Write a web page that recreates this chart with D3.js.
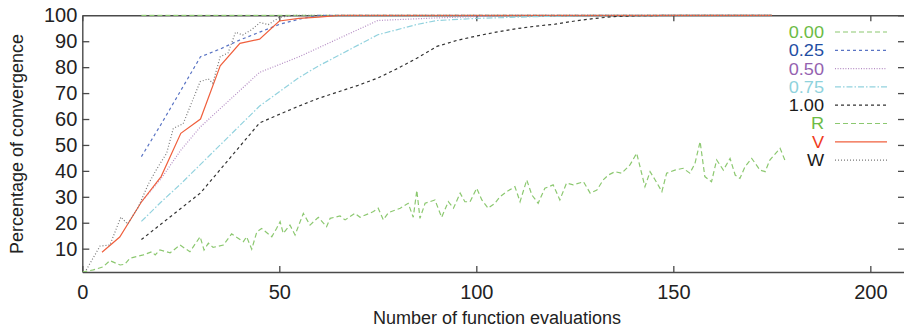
<!DOCTYPE html>
<html>
<head>
<meta charset="utf-8">
<script src="https://cdn.jsdelivr.net/npm/d3@7"></script>
<style>
  body { margin: 0; background: #fff; }
  text { font-family: "Liberation Sans", Arial, sans-serif; fill: #222; }
</style>
</head>
<body>
<div id="chart"><svg></svg></div>
<script>
// data
var xTicks = [0, 50, 100, 150, 200]
var yTicks = [10, 20, 30, 40, 50, 60, 70, 80, 90, 100]
var seriesNames = ["0.00", "0.25", "0.50", "0.75", "1.00", "R", "V", "W"]

var s000X = [15, 175]
var s000Y = [100, 100]

var s025X = [15, 20, 25, 30, 35, 40, 45, 50, 55, 60, 175]
var s025Y = [45.5, 58, 71, 84, 87, 90.5, 93.5, 96.5, 98.5, 100, 100]

var s050X = [15, 20, 25, 30, 35, 40, 45, 50, 55, 60, 65, 70, 75, 90, 110, 175]
var s050Y = [28, 37, 48, 57, 64, 71, 78, 81, 84, 87.5, 91, 94.5, 98, 99, 100, 100]

var s075X = [15, 20, 25, 30, 35, 40, 45, 50, 55, 60, 65, 70, 75, 80, 85, 90, 100, 115, 130, 175]
var s075Y = [20.5, 28, 35, 42.5, 50, 57.5, 65, 70.5, 76, 80.5, 84.5, 88.5, 92.5, 94.5, 96.5, 98, 98.8, 99.5, 100, 100]

var s100X = [15, 20, 25, 30, 35, 40, 45, 50, 55, 60, 65, 70, 75, 80, 85, 90, 95, 100, 105, 110, 115, 120, 125, 130, 135, 140, 150, 175]
var s100Y = [13.5, 19.5, 25.5, 31.5, 40.5, 49.5, 58.5, 61.8, 65, 68, 70.5, 73, 75.8, 79.5, 83.5, 88, 90.3, 92, 93.5, 94.8, 95.8, 96.6, 97.8, 98.8, 99.5, 99.8, 100, 100]

var rX = [0, 2.8, 5.3, 7, 9.6, 10.8, 12.1, 15.5, 17.6, 18.5,
  19.7, 22.3, 24.8, 27.3, 29.9, 30.9, 32, 33.2, 35.8, 37.9,
  40.9, 41.7, 43, 44.3, 45.5, 48.1, 49.3, 50.2, 51, 52.7,
  54, 56.1, 57.8, 59.9, 62, 62.9, 65.4, 66.7, 69.2, 70.5,
  73.9, 75.1, 76.4, 77.7, 80.7, 82.7, 84, 84.9, 85.7, 87,
  89.5, 91.2, 92.9, 94.2, 95.9, 97.1, 98.4, 100.1, 101.4, 103,
  104.7, 106, 107.7, 109.8, 111.1, 112.8, 114.1, 115.7, 117.4, 119.5,
  121.2, 122.9, 124.6, 127.2, 128.9, 130.6, 132.2, 133.5, 135.2, 136.9,
  139, 140.7, 142.8, 144.1, 145.4, 147.1, 148.3, 150.4, 152.5, 154.2,
  155.5, 156.8, 158, 159.7, 161, 162.7, 164.4, 165.7, 166.9, 168.2,
  169.9, 172, 173.3, 174.5, 177.1, 178.3]
var rY = [1, 1.8, 3, 5.4, 3.7, 4, 6.3, 7.6, 8.8, 7.6,
  9.5, 8.4, 11.4, 8.8, 14.6, 9.5, 12.1, 10.5, 11.4, 15.7,
  12.7, 14.6, 9.8, 16.5, 17.8, 14.6, 17.8, 20.4, 15.9, 19.1,
  15.3, 23.6, 19.1, 22.1, 18.5, 21.7, 22.6, 21.1, 23.6, 22.1,
  24.3, 25.6, 21.1, 23.9, 25.6, 27.5, 22.1, 32.5, 21.7, 27.5,
  28.8, 22.1, 28.1, 25.6, 31.4, 28.1, 28.1, 33.3, 28.8, 25.6,
  27.5, 30, 32, 33.9, 28.1, 36.5, 30.7, 27.5, 33.3, 34.6,
  28.8, 35.3, 34.6, 35.8, 31.4, 32.6, 36.5, 38.4, 39.7, 39.1,
  42.3, 46.8, 33.9, 39.7, 36.5, 32, 39.1, 40.3, 41, 39.1,
  42.9, 51.3, 37.8, 35.8, 44.2, 40.3, 44.8, 38.4, 37.1, 41.6,
  44.8, 40.3, 39.7, 44.2, 48.7, 44.2]

var vX = [5, 9.5, 15, 20, 25, 30, 35, 40, 45, 50, 55, 60, 65, 175]
var vY = [8.6, 14.5, 28, 37.8, 54.5, 60, 80.5, 89.2, 90.8, 97.8, 98.8, 99.3, 100, 100]

var wX = [1, 4.5, 7, 9.8, 11.5, 14.2, 16.8, 19, 21.4, 23.1, 25.6, 29.9, 32, 33.1, 35, 37, 38.9, 40.7, 43, 45.1, 47.2, 50, 53.6, 175]
var wY = [1.8, 11, 11.4, 22.2, 19.5, 26, 35, 41, 46.8, 56.4, 58.2, 74.4, 75.5, 73.8, 84, 85.5, 93.5, 92.4, 94.5, 97.2, 96.4, 99.2, 100, 100]

// Initialize
var width = 904
var height = 331

var svg = d3.select("#chart svg")
  .attr("width", width)
  .attr("height", height)

var x = d3.scaleLinear().domain([0, 208.8]).range([82.3, 905])
var y = d3.scaleLinear().domain([1, 100]).range([272, 15.3])

// styles per series
var lineColor = ["#8cc870", "#5a74c4", "#b48cc4", "#92d2de", "#333333", "#8cc870", "#f0603e", "#7a7a7a"]
var textColor = ["#6cbb45", "#1f4ea3", "#9462b0", "#8fd2dc", "#1a1a1a", "#6cbb45", "#f03c1e", "#1a1a1a"]
var dashes = ["5,3", "3,3", "1,1.6", "6,2,1.5,2", "3,3", "5,3", null, "1,2"]

var allX = [s000X, s025X, s050X, s075X, s100X, rX, vX, wX]
var allY = [s000Y, s025Y, s050Y, s075Y, s100Y, rY, vY, wY]

var series = seriesNames.map(function(name, i) {
  return {
    name: name,
    points: allX[i].map(function(v, j) { return [v, allY[i][j]] }),
    color: lineColor[i],
    textColor: textColor[i],
    dash: dashes[i]
  }
})

svg.append("clipPath").attr("id", "clip")
  .append("rect")
  .attr("x", x(0)).attr("y", y(100) - 1)
  .attr("width", x(208.8) - x(0)).attr("height", y(1) - y(100) + 1)

// Axes with inward ticks (gnuplot style frame)
var axisColor = "#4a4a4a"

var xAxis = svg.append("g")
  .attr("transform", "translate(0," + y(1) + ")")
  .call(d3.axisBottom(x).tickValues(xTicks).tickSizeInner(-6).tickSizeOuter(0).tickPadding(13))
var xAxisTop = svg.append("g")
  .attr("transform", "translate(0," + y(100) + ")")
  .call(d3.axisTop(x).tickValues(xTicks).tickSizeInner(-6).tickSizeOuter(0).tickFormat(""))
var yAxis = svg.append("g")
  .attr("transform", "translate(" + x(0) + ",0)")
  .call(d3.axisLeft(y).tickValues(yTicks).tickSizeInner(-7).tickSizeOuter(0).tickPadding(5))
var yAxisRight = svg.append("g")
  .attr("transform", "translate(" + x(208.8) + ",0)")
  .call(d3.axisRight(y).tickValues(yTicks).tickSizeInner(-7).tickSizeOuter(0).tickFormat(""))

svg.selectAll(".domain").attr("stroke", axisColor).attr("stroke-width", 1.4)
svg.selectAll(".tick line").attr("stroke", axisColor).attr("stroke-width", 1.3)
svg.selectAll(".tick text")
  .attr("fill", "#222")
  .style("font-family", "'Liberation Sans', Arial, sans-serif")
  .style("font-size", "20px")

// hide the 100 tick line on the left so it does not double the frame
yAxis.selectAll(".tick").filter(function(d) { return d === 100 }).select("line").remove()

// Lines
var line = d3.line().x(function(d) { return x(d[0]) }).y(function(d) { return y(d[1]) })

svg.append("g").attr("clip-path", "url(#clip)")
  .selectAll("path")
  .data(series)
  .join("path")
  .attr("d", function(d) { return line(d.points) })
  .attr("fill", "none")
  .attr("stroke", function(d) { return d.color })
  .attr("stroke-width", 1.2)
  .attr("stroke-dasharray", function(d) { return d.dash })

// Axis labels
svg.append("text")
  .attr("x", 497).attr("y", 324)
  .attr("text-anchor", "middle")
  .style("font-size", "18px")
  .text("Number of function evaluations")

svg.append("text")
  .attr("transform", "translate(23,144) rotate(-90)")
  .attr("text-anchor", "middle")
  .style("font-size", "18px")
  .text("Percentage of convergence")

// Legend (text is a bit wider than tall in the figure, so stretch it)
var legendTop = 32
var legendStep = 18.3

var legend = svg.append("g")
var legendItem = legend.selectAll("g")
  .data(series)
  .join("g")
  .attr("transform", function(d, i) { return "translate(0," + (legendTop + i * legendStep) + ")" })

legendItem.append("text")
  .attr("transform", "translate(824,0) scale(1.1,1)")
  .attr("dy", "0.36em")
  .attr("text-anchor", "end")
  .style("font-size", "16.5px")
  .style("fill", function(d) { return d.textColor })
  .text(function(d) { return d.name })

legendItem.append("line")
  .attr("x1", 835).attr("x2", 887)
  .attr("y1", 0).attr("y2", 0)
  .attr("stroke", function(d) { return d.color })
  .attr("stroke-width", 1.2)
  .attr("stroke-dasharray", function(d) { return d.dash })
</script>
</body>
</html>
